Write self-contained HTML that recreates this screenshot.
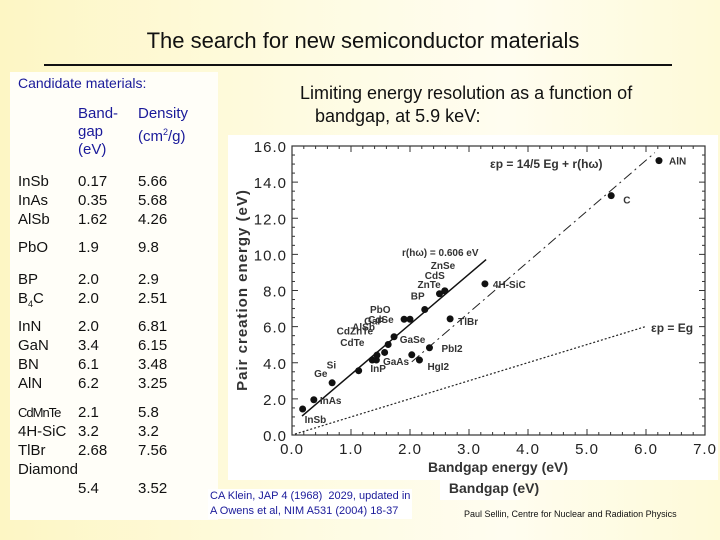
<!DOCTYPE html>
<html><head><meta charset="utf-8"><style>
body{margin:0;width:720px;height:540px;overflow:hidden;font-family:"Liberation Sans",sans-serif;background:linear-gradient(90deg,#fdf6c4 0%,#fefbe0 40%,#fffdf0 70%,#fefad8 100%);position:relative}
.abs{position:absolute}
#title{left:0;width:726px;top:28px;text-align:center;font-size:22px;color:#111}
#rule{left:44px;top:64px;width:628px;height:2px;background:#111}
#cand{left:10px;top:72px;width:208px;height:448px;background:#fffef8}
.t{position:absolute;font-size:15px;color:#111;line-height:19px}
.b{color:#1a1a9a}
#sub{left:300px;top:82px;font-size:18px;color:#111;line-height:23px}
#cite{left:208px;top:489px;font-size:11px;color:#1a1a9a;line-height:15px;background:#fff;padding:0 2px}
#credit{left:464px;top:509px;font-size:9px;color:#111}
</style></head><body>
<div id="title" class="abs">The search for new semiconductor materials</div>
<div id="rule" class="abs"></div>
<div id="cand" class="abs">
<div class="t b" style="left:8px;top:2px;font-size:14px">Candidate materials:</div>
<div class="t b" style="left:68px;top:33px;line-height:18px">Band-<br>gap<br>(eV)</div>
<div class="t b" style="left:128px;top:33px;line-height:18px">Density<br>(cm<sup style="font-size:9px">2</sup>/g)</div>
<div class="t" style="left:8px;top:100px">InSb<br>InAs<br>AlSb</div>
<div class="t" style="left:68px;top:100px">0.17<br>0.35<br>1.62</div>
<div class="t" style="left:128px;top:100px">5.66<br>5.68<br>4.26</div>
<div class="t" style="left:8px;top:166px">PbO</div>
<div class="t" style="left:68px;top:166px">1.9</div>
<div class="t" style="left:128px;top:166px">9.8</div>
<div class="t" style="left:8px;top:198px">BP<br>B<sub style="font-size:9px">4</sub>C</div>
<div class="t" style="left:68px;top:198px">2.0<br>2.0</div>
<div class="t" style="left:128px;top:198px">2.9<br>2.51</div>
<div class="t" style="left:8px;top:245px">InN<br>GaN<br>BN<br>AlN</div>
<div class="t" style="left:68px;top:245px">2.0<br>3.4<br>6.1<br>6.2</div>
<div class="t" style="left:128px;top:245px">6.81<br>6.15<br>3.48<br>3.25</div>
<div class="t" style="left:8px;top:331px"><span style="font-size:13px;letter-spacing:-1px">CdMnTe</span><br>4H-SiC<br>TlBr<br>Diamond</div>
<div class="t" style="left:68px;top:331px">2.1<br>3.2<br>2.68<br><br>5.4</div>
<div class="t" style="left:128px;top:331px">5.8<br>3.2<br>7.56<br><br>3.52</div>
</div>
<div id="sub" class="abs">Limiting energy resolution as a function of<br>&nbsp;&nbsp;&nbsp;bandgap, at 5.9 keV:</div>
<svg class="abs" style="left:0;top:0" width="720" height="540" id="chart"></svg>
<div id="cite" class="abs">CA Klein, JAP 4 (1968)&nbsp; 2029, updated in<br>A Owens et al, NIM A531 (2004) 18-37</div>
<div id="credit" class="abs">Paul Sellin, Centre for Nuclear and Radiation Physics</div>
<script>
const xTicks=[0,1,2,3,4,5,6,7];
const yTicks=[0,2,4,6,8,10,12,14,16];
const materials=["InSb","InAs","Ge","Si","CdTe","InP","GaAs","CdZnTe","AlSb","CdSe","PbO","BP","GaP","ZnTe","CdS","ZnSe","4H-SiC","TlBr","PbI2","GaSe","HgI2","C","AlN"];
const bandgaps=[0.18,0.37,0.68,1.13,1.36,1.43,1.44,1.57,1.63,1.90,2.0,2.25,1.73,2.5,2.59,2.59,3.27,2.68,2.33,2.03,2.16,5.41,6.22];
const pairEnergies=[1.44,1.95,2.89,3.56,4.15,4.15,4.42,4.57,5.01,6.41,6.41,6.95,5.44,7.82,7.98,7.98,8.37,6.43,4.83,4.44,4.15,13.25,15.19];
const fitSolidX=[0.17,3.29],fitSolidY=[1.05,9.71];
const fitDashX=[2.03,6.15],fitDashY=[4.05,15.63];
const fitDotX=[0.05,5.98],fitDotY=[0.05,5.99];
const X0=292,X1=705,Y0=435,Y1=146;
const sx=v=>X0+(X1-X0)*v/7, sy=v=>Y0-(Y0-Y1)*v/16;
const svg=document.getElementById('chart');const NS='http://www.w3.org/2000/svg';
function mk(t,a,p){const e=document.createElementNS(NS,t);for(const k in a)e.setAttribute(k,a[k]);(p||svg).appendChild(e);return e;}
const bg=mk('rect',{x:228,y:135,width:490,height:345,fill:'#fff'});


const bg2=mk('rect',{x:440,y:478,width:80,height:22,fill:'#fff'});


const frame=mk('rect',{x:X0,y:Y1,width:X1-X0,height:Y0-Y1,fill:'none',stroke:'#333','stroke-width':1.2});


xTicks.forEach(v=>{for(let m=0;m<5&&v+m*0.2<=7;m++){const x=sx(v+m*0.2),L=m?3:6;mk('line',{x1:x,x2:x,y1:Y0,y2:Y0-L,stroke:'#333'});mk('line',{x1:x,x2:x,y1:Y1,y2:Y1+L,stroke:'#333'});}
const t=mk('text',{x:sx(v),y:454,'text-anchor':'middle','font-size':15,fill:'#222','letter-spacing':1});t.textContent=v.toFixed(1);

});
yTicks.forEach(v=>{for(let m=0;m<4&&v+m*0.5<=16;m++){const y=sy(v+m*0.5),L=m?3:6;mk('line',{x1:X0,x2:X0+L,y1:y,y2:y,stroke:'#333'});mk('line',{x1:X1,x2:X1-L,y1:y,y2:y,stroke:'#333'});}
const t=mk('text',{x:287,y:sy(v)+6,'text-anchor':'end','font-size':15,fill:'#222','letter-spacing':1});t.textContent=v.toFixed(1);

});
const xt=mk('text',{x:498,y:472,'text-anchor':'middle','font-size':14,'font-weight':'bold',fill:'#333'});xt.textContent='Bandgap  energy  (eV)';


const xt2=mk('text',{x:494,y:493,'text-anchor':'middle','font-size':14,'font-weight':'bold',fill:'#333'});xt2.textContent='Bandgap  (eV)';


const yt=mk('text',{x:0,y:0,'text-anchor':'middle','font-size':15,'font-weight':'bold',fill:'#333',transform:'translate(247,290) rotate(-90)','letter-spacing':1});yt.textContent='Pair  creation  energy  (eV)';


const l1=mk('line',{x1:sx(fitSolidX[0]),y1:sy(fitSolidY[0]),x2:sx(fitSolidX[1]),y2:sy(fitSolidY[1]),stroke:'#111','stroke-width':1.5});


const l2=mk('line',{x1:sx(fitDashX[0]),y1:sy(fitDashY[0]),x2:sx(fitDashX[1]),y2:sy(fitDashY[1]),stroke:'#222','stroke-width':1,'stroke-dasharray':'10 4 2 4'});


const l3=mk('line',{x1:sx(fitDotX[0]),y1:sy(fitDotY[0]),x2:sx(fitDotX[1]),y2:sy(fitDotY[1]),stroke:'#222','stroke-width':1.2,'stroke-dasharray':'2 2'});


const off={"InSb":[2,14],"InAs":[6,4],"Ge":[-18,-6],"Si":[-32,-2],"CdTe":[-32,-14],"InP":[-6,12],"GaAs":[6,10],"CdZnTe":[-48,-18],"AlSb":[-36,-14],"CdSe":[-36,4],"PbO":[-40,-6],"BP":[-14,-10],"GaP":[-30,-12],"ZnTe":[-22,-6],"CdS":[-20,-12],"ZnSe":[-14,-22],"4H-SiC":[8,4],"TlBr":[8,6],"PbI2":[12,4],"GaSe":[-12,-12],"HgI2":[8,10],"C":[12,8],"AlN":[10,4]};
materials.forEach((m,i)=>{const c=mk('circle',{cx:sx(bandgaps[i]),cy:sy(pairEnergies[i]),r:3.5,fill:'#111'});


const o=off[m]||[6,4];const t=mk('text',{x:sx(bandgaps[i])+o[0],y:sy(pairEnergies[i])+o[1],'font-size':10,'font-weight':'bold',fill:'#333'});t.textContent=m;

});
const a1=mk('text',{x:490,y:168,'font-size':12,'font-weight':'bold',fill:'#333'});a1.textContent='εp = 14/5 Eg + r(hω)';


const a2=mk('text',{x:402,y:256,'font-size':10,'font-weight':'bold',fill:'#333'});a2.textContent='r(hω) = 0.606 eV';


const a3=mk('text',{x:651,y:332,'font-size':12,'font-weight':'bold',fill:'#333'});a3.textContent='εp = Eg';


</script>
</body></html>
